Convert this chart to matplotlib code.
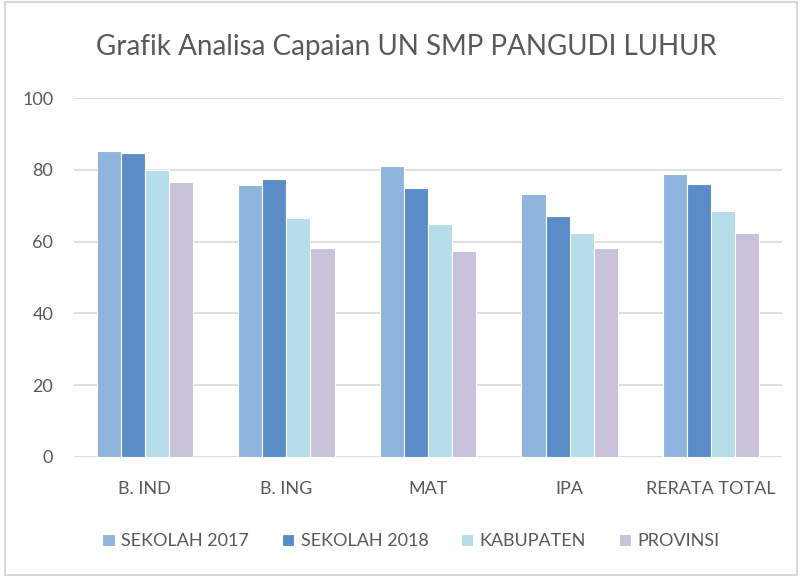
import matplotlib
matplotlib.use("Agg")
import matplotlib.pyplot as plt
import numpy as np
from matplotlib.patches import Rectangle

# data
categories = ['B. IND', 'B. ING', 'MAT', 'IPA', 'RERATA TOTAL']
sekolah_2017 = [85.2, 75.7, 81.1, 73.2, 78.8]
sekolah_2018 = [84.6, 77.4, 74.9, 67.1, 76.0]
kabupaten = [80.0, 66.7, 64.8, 62.3, 68.5]
provinsi = [76.7, 58.1, 57.4, 58.1, 62.3]
series_names = ['SEKOLAH 2017', 'SEKOLAH 2018', 'KABUPATEN', 'PROVINSI']
yticks = [0, 20, 40, 60, 80, 100]

colors = ['#8FB4DE', '#5A8DC8', '#B5DDEA', '#C9C0DA']
text_color = '#595959'
plt.rcParams['font.family'] = ['Lato', 'DejaVu Sans']

fig = plt.figure(figsize=(8, 5.77), dpi=100)
ax = fig.add_axes([0.0925, 0.208, 0.885, 0.622])

x = np.arange(len(categories))
width = 0.17
series = [sekolah_2017, sekolah_2018, kabupaten, provinsi]
for i, (vals, name) in enumerate(zip(series, series_names)):
    ax.bar(x + (i - 1.5) * width, vals, width, color=colors[i],
           edgecolor='white', linewidth=0.8, label=name, zorder=3)

ax.set_xlim(-0.5, len(categories) - 0.5)
ax.set_ylim(0, 100)
ax.set_yticks(yticks)
ax.set_yticklabels([str(t) for t in yticks])
ax.set_xticks(x)
ax.set_xticklabels(categories)
ax.tick_params(axis='both', length=0, labelsize=13, colors=text_color)
ax.tick_params(axis='x', pad=17)
ax.tick_params(axis='y', pad=15)
for s in ax.spines.values():
    s.set_visible(False)
ax.grid(axis='y', color='#D9D9D9', linewidth=1.2, zorder=0)
ax.set_axisbelow(True)

fig.text(0.508, 0.918, 'Grafik Analisa Capaian UN SMP PANGUDI LUHUR',
         ha='center', va='center', fontsize=20, color=text_color)

ax.legend(loc='center', bbox_to_anchor=(0.476, -0.235), ncol=4, frameon=False,
          fontsize=13, labelcolor=text_color, handlelength=0.7, handleheight=0.7,
          handletextpad=0.35, columnspacing=1.8)

# light frame around the whole chart
fig.patches.append(Rectangle((0.006, 0.004), 0.99, 0.992, transform=fig.transFigure,
                             fill=False, edgecolor='#D9D9D9', linewidth=1.5))

fig.savefig('out.png', dpi=100)
